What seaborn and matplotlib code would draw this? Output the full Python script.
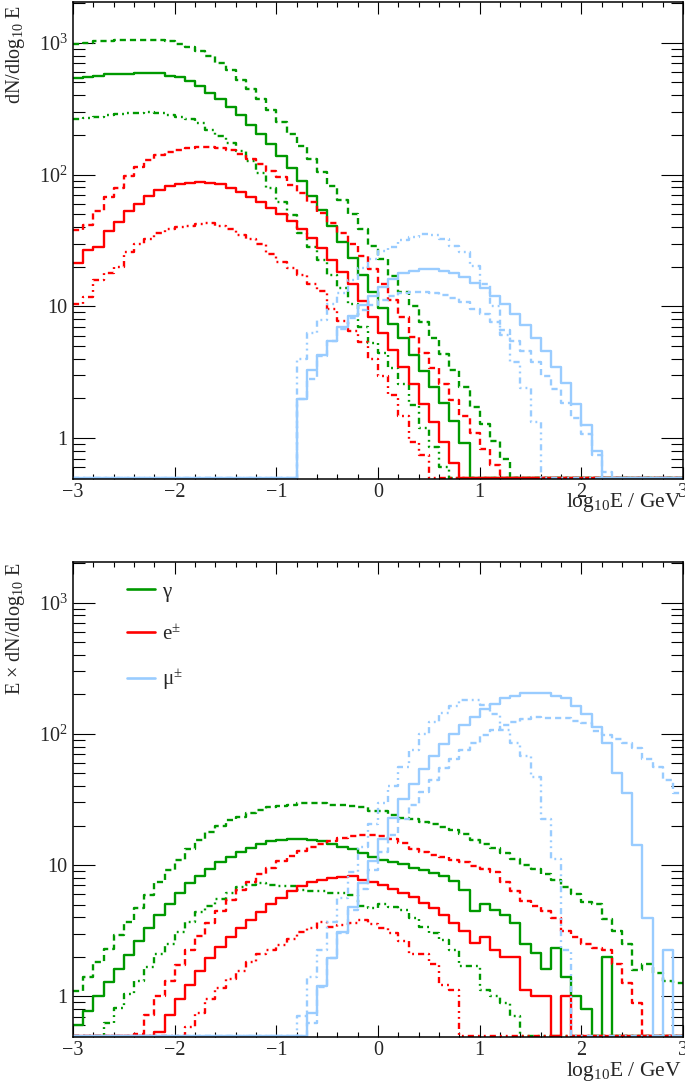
import numpy as np
import pandas as pd
import matplotlib
matplotlib.use("Agg")
import matplotlib.pyplot as plt
import seaborn as sns
from matplotlib.ticker import MultipleLocator, FixedLocator, FixedFormatter, LogLocator, NullFormatter
from matplotlib.lines import Line2D

nan = np.nan

# ---------------- data ----------------
# 60 bins of width 0.1 in log10(E/GeV) from -3 to 3
bin_low, bin_high, n_bins = -3.0, 3.0, 60

# log10 of dN/dlog10E per bin (nan = empty bin)
gamma_dashed = [2.99, 3.00, 3.01, 3.01, 3.02, 3.02, 3.02, 3.02, 3.02, 3.01,
                2.99, 2.97, 2.94, 2.90, 2.85, 2.79, 2.72, 2.65, 2.57, 2.49,
                2.40, 2.31, 2.22, 2.12, 2.02, 1.91, 1.81, 1.70, 1.59, 1.46,
                1.36, 1.23, 1.11, 1.00, 0.88, 0.76, 0.64, 0.52, 0.39, 0.24,
                0.11, -0.02, -0.16, -0.30, -0.45, -0.58, -0.72, -0.86, -1.02, -1.17,
                -1.33, -1.45, -1.66, -1.85, -2.05, -2.35, -2.40, -2.57, -2.73, -2.85]
gamma_solid = [2.73, 2.74, 2.75, 2.76, 2.76, 2.765, 2.77, 2.77, 2.77, 2.75,
               2.74, 2.71, 2.67, 2.62, 2.57, 2.51, 2.45, 2.38, 2.31, 2.23,
               2.14, 2.05, 1.95, 1.84, 1.73, 1.61, 1.49, 1.37, 1.24, 1.11,
               0.99, 0.87, 0.76, 0.63, 0.51, 0.39, 0.27, 0.13, -0.04, -0.30,
               -0.35, -0.49, -0.63, -0.79, -1.05, -1.22, -1.44, -1.38, -1.70, -1.95,
               -2.15, nan, -1.95, nan, nan, nan, nan, nan, nan, nan]
gamma_dashdot = [2.42, 2.43, 2.44, 2.45, 2.46, 2.47, 2.47, 2.475, 2.47, 2.45,
                 2.44, 2.42, 2.39, 2.34, 2.29, 2.24, 2.18, 2.10, 2.01, 1.90,
                 1.79, 1.69, 1.56, 1.45, 1.35, 1.24, 1.14, 1.02, 0.84, 0.72,
                 0.65, 0.53, 0.41, 0.25, 0.08, -0.07, -0.22, -0.40, -0.62, -0.72,
                 -1.00, -1.15, -1.30, -1.50, -1.80, nan, nan, nan, nan, nan,
                 nan, nan, nan, nan, nan, nan, nan, nan, nan, nan]
e_dashed = [1.58, 1.62, 1.72, 1.83, 1.90, 1.99, 2.06, 2.11, 2.15, 2.17,
            2.19, 2.20, 2.207, 2.207, 2.20, 2.185, 2.16, 2.12, 2.08, 2.03,
            1.98, 1.92, 1.86, 1.79, 1.71, 1.63, 1.56, 1.47, 1.38, 1.28,
            1.17, 1.05, 0.92, 0.77, 0.65, 0.53, 0.41, 0.29, 0.17, 0.04,
            -0.08, -0.20, -0.38, -0.55, -0.72, -0.86, -1.00, -1.15, -1.35, -1.50,
            -1.65, -1.78, -1.90, -2.10, -2.35, -2.60, nan, nan, nan, nan]
e_solid = [1.33, 1.43, 1.45, 1.57, 1.64, 1.72, 1.78, 1.84, 1.88, 1.91,
           1.93, 1.94, 1.945, 1.94, 1.925, 1.90, 1.87, 1.83, 1.79, 1.75,
           1.70, 1.65, 1.59, 1.52, 1.44, 1.35, 1.26, 1.17, 1.04, 0.92,
           0.80, 0.67, 0.54, 0.41, 0.26, 0.12, -0.03, -0.19, -0.35, -0.54,
           -0.60, -0.80, -0.95, -1.05, -1.40, -1.55, -1.65, -2.10, -1.85, nan,
           nan, nan, nan, nan, nan, nan, nan, nan, nan, nan]
e_dashdot = [1.02, 1.07, 1.20, 1.25, 1.30, 1.41, 1.47, 1.51, 1.56, 1.59,
             1.605, 1.613, 1.625, 1.63, 1.61, 1.585, 1.54, 1.51, 1.47, 1.40,
             1.34, 1.29, 1.24, 1.17, 1.12, 0.98, 0.89, 0.81, 0.73, 0.60,
             0.47, 0.33, 0.17, -0.03, -0.13, -0.30, -0.56, -0.70, nan, nan,
             nan, nan, nan, nan, nan, nan, nan, nan, nan, nan,
             nan, nan, nan, nan, nan, nan, nan, nan, nan, nan]
mu_dashed = [nan] * 22 + [
             0.30, 0.45, 0.62, 0.74, 0.83, 0.91, 0.97, 1.01,
             1.05, 1.08, 1.10, 1.11, 1.11, 1.10, 1.09, 1.06, 1.03, 0.98,
             0.94, 0.88, 0.82, 0.74, 0.66, 0.58, 0.47, 0.37, 0.27, 0.15,
             0.03, -0.13, -0.26, -0.39, -0.52, -0.66, -0.84, -1.00, -1.20, -1.40]
mu_solid = [nan] * 22 + [
            0.30, 0.52, 0.63, 0.74, 0.84, 0.93, 1.01, 1.08,
            1.15, 1.21, 1.25, 1.27, 1.28, 1.28, 1.27, 1.25, 1.22, 1.18,
            1.14, 1.08, 1.02, 0.94, 0.86, 0.76, 0.66, 0.54, 0.42, 0.26,
            0.10, -0.10, -0.32, -0.65, -0.90, -1.40, -2.05, nan, -2.50, nan]
mu_dashdot = [nan] * 22 + [
              0.60, 0.80, 0.90, 1.02, 1.10, 1.20, 1.29, 1.36,
              1.42, 1.45, 1.50, 1.53, 1.55, 1.54, 1.51, 1.46, 1.41, 1.31,
              1.17, 1.00, 0.78, 0.58, 0.38, 0.12, -0.30, -0.70, -1.50, nan,
              nan, nan, nan, nan, nan, nan, nan, nan, nan, nan]

particles = ["γ", "e$^{\\pm}$", "μ$^{\\pm}$"]
variants = ["dashed", "solid", "dashdotdot"]
x_ticks = [-3, -2, -1, 0, 1, 2, 3]
x_tick_labels = ["\u22123", "\u22122", "\u22121", "0", "1", "2", "3"]
y_ticks = [1, 10, 100, 1000]
y_tick_labels = ["1", "10", "$10^{2}$", "$10^{3}$"]
y_min, y_max = 0.49, 2040
floor_value = 0.5

series = {
    ("γ", "dashed"): gamma_dashed, ("γ", "solid"): gamma_solid, ("γ", "dashdotdot"): gamma_dashdot,
    ("e$^{\\pm}$", "dashed"): e_dashed, ("e$^{\\pm}$", "solid"): e_solid, ("e$^{\\pm}$", "dashdotdot"): e_dashdot,
    ("μ$^{\\pm}$", "dashed"): mu_dashed, ("μ$^{\\pm}$", "solid"): mu_solid, ("μ$^{\\pm}$", "dashdotdot"): mu_dashdot,
}

# ---------------- build table ----------------
edges = np.linspace(bin_low, bin_high, n_bins + 1)
centers = 0.5 * (edges[:-1] + edges[1:])
rows = []
for (particle, variant), logv in series.items():
    logv = np.asarray(logv, dtype=float)
    dn = np.where(np.isnan(logv), 0.0, 10.0 ** np.nan_to_num(logv, nan=-9))
    for panel, vals in (("top", dn), ("bottom", dn * 10.0 ** centers)):
        y = np.clip(vals, floor_value, None)
        y = np.append(y, y[-1])
        for xe, ye in zip(edges, y):
            rows.append(dict(panel=panel, particle=particle, variant=variant, x=xe, y=ye))
df = pd.DataFrame(rows)

# ---------------- style ----------------
sns.set_style("ticks")
plt.rcParams["font.family"] = ["Liberation Serif", "DejaVu Serif"]
plt.rcParams["mathtext.fontset"] = "custom"
plt.rcParams["mathtext.rm"] = "Liberation Serif"
plt.rcParams["mathtext.it"] = "Liberation Serif:italic"
plt.rcParams["mathtext.bf"] = "Liberation Serif:bold"

palette = {"γ": "#009900", "e$^{\\pm}$": "#ff0000", "μ$^{\\pm}$": "#99ccff"}
dashes = {"solid": "", "dashed": (2.6, 1.7), "dashdotdot": (2.6, 1.7, 0.8, 1.7, 0.8, 1.7)}

W, H = 685, 1086
fig = plt.figure(figsize=(W / 100, H / 100), dpi=100)
ax1 = fig.add_axes([73 / W, 1 - 479 / H, 610 / W, 477 / H])
ax2 = fig.add_axes([73 / W, 1 - 1037 / H, 610 / W, 475 / H])

for ax, panel in ((ax1, "top"), (ax2, "bottom")):
    d = df[df.panel == panel]
    sns.lineplot(data=d, x="x", y="y", hue="particle", style="variant",
                 hue_order=particles, style_order=variants,
                 palette=palette, dashes=dashes, estimator=None, sort=False,
                 drawstyle="steps-post", linewidth=1.7, legend=False, ax=ax)
    ax.set_yscale("log")
    ax.set_xlim(bin_low, bin_high)
    ax.set_ylim(y_min, y_max)
    ax.xaxis.set_major_locator(FixedLocator(x_ticks))
    ax.xaxis.set_major_formatter(FixedFormatter(x_tick_labels))
    ax.xaxis.set_minor_locator(MultipleLocator(0.2))
    ax.yaxis.set_major_locator(FixedLocator(y_ticks))
    ax.yaxis.set_major_formatter(FixedFormatter(y_tick_labels))
    ax.yaxis.set_minor_locator(LogLocator(base=10, subs=np.arange(2, 10)))
    ax.yaxis.set_minor_formatter(NullFormatter())
    ax.tick_params(axis="x", which="major", direction="in", length=8.4, width=0.8,
                   top=True, bottom=True, labelsize=14.5, pad=3, color="black")
    ax.tick_params(axis="x", which="minor", direction="in", length=3.6, width=0.8,
                   top=True, bottom=True, color="black")
    ax.tick_params(axis="y", which="major", direction="in", length=15.6, width=0.8,
                   left=True, right=True, labelsize=14.5, pad=4, color="black")
    ax.tick_params(axis="y", which="minor", direction="in", length=8.4, width=0.8,
                   left=True, right=True, color="black")
    for s in ax.spines.values():
        s.set_linewidth(1.1)
        s.set_color("black")
        s.set_zorder(5)

ax1.set_ylabel("dN/dlog$_{10}$ E", fontsize=14.5, loc="top")
ax1.yaxis.set_label_coords(-0.075, 0.994)
ax1.set_xlabel("log$_{10}$E / GeV", fontsize=15.5, loc="right")
ax1.xaxis.set_label_coords(0.998, -0.026)

ax2.set_ylabel("E \u00d7 dN/dlog$_{10}$ E", fontsize=14.5, loc="top")
ax2.yaxis.set_label_coords(-0.075, 1.0)
ax2.set_xlabel("log$_{10}$E / GeV", fontsize=15.5, loc="right")
ax2.xaxis.set_label_coords(0.998, -0.048)

handles = [Line2D([], [], color=palette[p], lw=1.9) for p in particles]
ax2.legend(handles, particles, loc="upper left", bbox_to_anchor=(0.088, 0.958),
           frameon=False, fontsize=15, handlelength=1.35, handletextpad=0.35,
           labelspacing=1.12, borderpad=0, borderaxespad=0)

fig.savefig("out.png", dpi=100)
